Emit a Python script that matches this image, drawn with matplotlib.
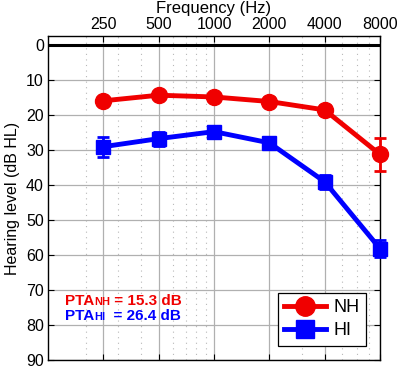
import matplotlib
matplotlib.use("Agg")
import matplotlib.pyplot as plt
from matplotlib.ticker import FixedLocator, NullFormatter, LogLocator
from matplotlib.transforms import offset_copy
from matplotlib.lines import Line2D

plt.rcParams['font.family'] = ['Liberation Sans', 'DejaVu Sans']

freqs = [250, 500, 1000, 2000, 4000, 8000]
freq_labels = ['250', '500', '1000', '2000', '4000', '8000']
nh = [16.0, 14.4, 14.9, 16.2, 18.6, 31.3]
nh_err = [1.2, 1.2, 1.2, 1.2, 1.5, 4.8]
hi = [29.1, 26.8, 24.8, 28.0, 39.1, 58.2]
hi_err = [2.8, 2.0, 1.5, 1.5, 2.0, 2.5]
yticks = [0, 10, 20, 30, 40, 50, 60, 70, 80, 90]

RED = '#f00000'
BLUE = '#0000ff'

fig = plt.figure(figsize=(4.0, 3.69), dpi=100)
ax = fig.add_axes([0.12, 0.0244, 0.83, 0.878])

ax.set_xscale('log')
ax.set_xlim(125, 8000)
ax.set_ylim(90, -2.5)

ax.xaxis.set_major_locator(FixedLocator(freqs))
ax.set_xticklabels(freq_labels)
ax.xaxis.set_minor_locator(LogLocator(base=10, subs=range(2, 10)))
ax.xaxis.set_minor_formatter(NullFormatter())
ax.set_yticks(yticks)

ax.grid(True, which='major', color='#b0b0b0', linewidth=0.9, linestyle='-')
ax.grid(True, which='minor', axis='x', color='#b8b8b8', linewidth=0.8, linestyle=(0, (1, 4)))
ax.set_axisbelow(True)

ax.axhline(0, color='black', linewidth=2.2, zorder=2)

ax.xaxis.tick_top()
ax.xaxis.set_label_position('top')
ax.tick_params(axis='both', which='major', direction='in', labelsize=11.5, length=4,
               top=True, bottom=True, left=True, right=True, pad=3)
ax.tick_params(axis='x', which='minor', length=0)
ax.set_xlabel('Frequency (Hz)', fontsize=12, labelpad=3)
ax.set_ylabel('Hearing level (dB HL)', fontsize=11.5, labelpad=4)

for vals, errs, col, mk, ms in [(nh, nh_err, RED, 'o', 11.5), (hi, hi_err, BLUE, 's', 10.5)]:
    cont = ax.errorbar(freqs, vals, yerr=errs, color=col, marker=mk, markersize=ms,
                       linewidth=3.5, elinewidth=2, capsize=4, capthick=2, zorder=4)
    cont.lines[0].set_clip_on(False)
    for art in cont.lines[1]:
        art.set_clip_on(False)
    for art in cont.lines[2]:
        art.set_clip_on(False)

for sp in ax.spines.values():
    sp.set_linewidth(1.0)

handles = [Line2D([], [], color=RED, marker='o', markersize=14, linewidth=3.5),
           Line2D([], [], color=BLUE, marker='s', markersize=13, linewidth=3.5)]
leg = ax.legend(handles, ['NH', 'HI'], loc='lower right', fontsize=13, frameon=True,
                fancybox=False, edgecolor='black', framealpha=1, handlelength=2.3,
                handletextpad=0.4, borderaxespad=0.8, labelspacing=0.35, borderpad=0.35)
leg.get_frame().set_linewidth(0.9)

fig.canvas.draw()
r = fig.canvas.get_renderer()

def pta(y, sub, val, color):
    t1 = ax.text(0.05, y, 'PTA', transform=ax.transAxes, fontsize=11,
                 fontweight='bold', color=color, va='baseline')
    w1 = t1.get_window_extent(r).width
    tr = offset_copy(ax.transAxes, fig=fig, x=w1 * 72 / fig.dpi, y=0, units='points')
    t2 = ax.text(0.05, y, sub, transform=tr, fontsize=8, fontweight='bold',
                 color=color, va='baseline')
    w2 = t2.get_window_extent(r).width
    tr2 = offset_copy(ax.transAxes, fig=fig, x=(w1 + w2) * 72 / fig.dpi, y=0, units='points')
    ax.text(0.05, y, val, transform=tr2, fontsize=11, fontweight='bold',
            color=color, va='baseline')

pta(0.17, 'NH', ' = 15.3 dB', RED)
pta(0.122, 'HI', '  = 26.4 dB', BLUE)

fig.savefig('out.png', dpi=100)
